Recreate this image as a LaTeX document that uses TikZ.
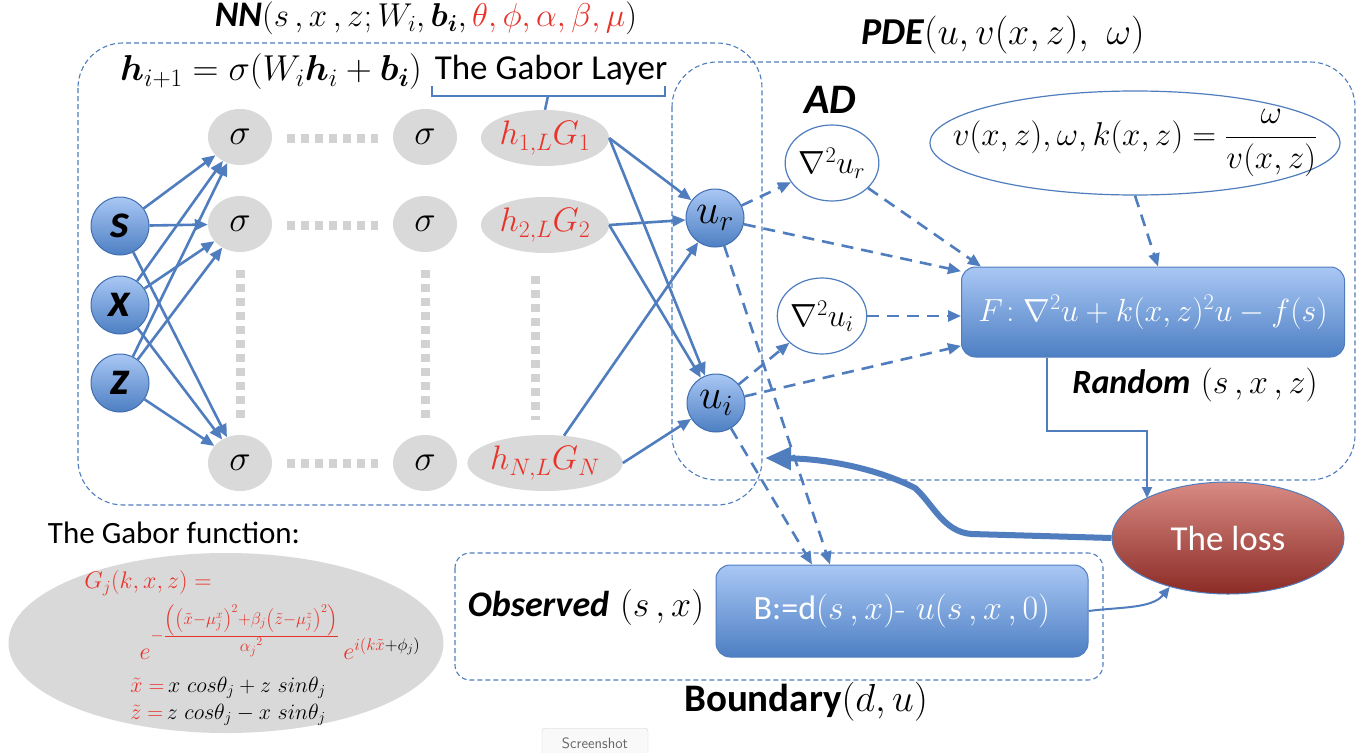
\documentclass[tikz,border=0pt]{standalone}
\usepackage{fix-cm}
\usepackage{amsmath}
\usepackage{bm}
\usepackage{fontspec}
\newfontfamily\carl{Carlito}
\usetikzlibrary{shapes.geometric,arrows.meta,calc}
\definecolor{lblue}{HTML}{4F7DBE}
\definecolor{ngray}{HTML}{D9D9D9}
\definecolor{dgray}{HTML}{D2D2D2}
\definecolor{tred}{HTML}{E8332A}
\definecolor{btop}{HTML}{A9C7F4}
\definecolor{bbot}{HTML}{4D7FC3}
\definecolor{bborder}{HTML}{3F6DB0}
\definecolor{ltop}{HTML}{D88A83}
\definecolor{lbot}{HTML}{8C2B26}
\newcommand\fsz[1]{\fontsize{#1}{#1}\selectfont}
\begin{document}
\begin{tikzpicture}[x=1pt,y=-1pt,
  dbox/.style={draw=lblue,line width=1.1pt,dash pattern=on 5pt off 3pt},
  gnode/.style={ellipse,fill=ngray,inner sep=0pt,minimum width=64pt,minimum height=56pt,font=\fsz{36}},
  hnode/.style={gnode,minimum width=128pt,text=tred,font=\fsz{34}},
  bnode/.style={circle,top color=btop,bottom color=bbot,draw=bborder,line width=1pt,minimum size=58pt,inner sep=0pt},
  innode/.style={bnode,font=\carl\bfseries\itshape\fsz{48}},
  lnode/.style={ellipse,draw=lblue,line width=1.2pt,fill=white,inner sep=0pt,minimum width=82pt,minimum height=76pt,font=\fsz{32}},
  arr/.style={draw=lblue,line width=2.6pt,-{Triangle[length=13pt,width=11pt]}},
  darr/.style={arr,dash pattern=on 12pt off 8pt},
  tarr/.style={draw=lblue,line width=2pt,-{Triangle[length=11pt,width=10pt]}},
  dotline/.style={draw=dgray,line width=9pt,dash pattern=on 8pt off 6pt},
  bluebox/.style={rectangle,rounded corners=14pt,top color=btop,bottom color=bbot,draw=lblue,line width=1pt,text=white,inner sep=0pt},
  gtxt/.style={inner sep=0pt}
]
\useasboundingbox (0,0) rectangle (1372,752);
\fill[white] (0,0) rectangle (1372,752);

% dashed frames
\draw[dbox,rounded corners=45pt] (78,43) rectangle (762,505);
\draw[dbox,rounded corners=45pt] (672,62) rectangle (1355,480);
\draw[dbox,rounded corners=15pt] (455,553) rectangle (1103,680);

% titles
\node[font=\fsz{33}] (nntitle) at (426,18) {{\carl\bfseries\itshape\fsz{36}NN}$(s\,,x\,,z;W_i,\bm{b}_{\bm{i}},\textcolor{tred}{\theta,\phi,\alpha,\beta,\mu})$};
\node[font=\fsz{38}] (pdetitle) at (1003,35) {{\carl\bfseries\itshape PDE}$(u,v(x,z),\ \omega)$};
\node[font=\fsz{36}] (heq) at (271,72) {$\bm{h}_{i+1}=\sigma(W_i\bm{h}_i+\bm{b}_{\bm{i}})$};
\node[font=\carl\fsz{35}] (gablayer) at (551,70) {The Gabor Layer};
\node[font=\carl\bfseries\itshape\fsz{42}] (ad) at (830,100) {AD};

% dotted placeholders
\draw[dotline] (287,138) -- (378,138);
\draw[dotline] (287,225) -- (378,225);
\draw[dotline] (287,463) -- (378,463);
\draw[dotline] (240,270) -- (240,420);
\draw[dotline] (425,270) -- (425,420);
\draw[dotline] (535,276) -- (535,420);

% network nodes
\node[innode] (s) at (120,226) {s};
\node[innode] (x) at (120,305) {x};
\node[innode] (z) at (120,383) {z};
\node[gnode] (s11) at (240,137) {$\sigma$};
\node[gnode] (s12) at (240,224) {$\sigma$};
\node[gnode] (s13) at (240,463) {$\sigma$};
\node[gnode] (s21) at (425,137) {$\sigma$};
\node[gnode] (s22) at (425,224) {$\sigma$};
\node[gnode] (s23) at (425,463) {$\sigma$};
\node[hnode] (h1) at (545,138) {$h_{1,L}G_1$};
\node[hnode] (h2) at (545,225) {$h_{2,L}G_2$};
\node[hnode] (hN) at (545,463) {$h_{N,L}G_N$};
\node[bnode,font=\fsz{42}] (ur) at (715,218) {$u_r$};
\node[bnode,font=\fsz{42}] (ui) at (716,403) {$u_i$};

% Gabor layer bracket
\draw[lblue,line width=2.5pt] (432,86) -- (432,96) -- (665,96) -- (665,86);
\draw[lblue,line width=2.5pt] (548,96) -- (h1.north);

% input -> sigma
\foreach \a in {s,x,z}{
  \foreach \b in {s11,s12,s13}{
    \draw[arr] (\a) -- (\b);
  }
}
% h -> u
\draw[arr] (h1.east) -- (ur);
\draw[arr] (h1.east) -- (ui);
\draw[arr] (h2.east) -- (ur);
\draw[arr] (h2.east) -- (ui);
\draw[arr] (hN) -- (ur);
\draw[arr] (hN.east) -- (ui);

% AD nodes
\node[lnode] (lur) at (832,163) {$\nabla^2u_r$};
\node[lnode] (lui) at (822,316) {$\nabla^2u_i$};

% v ellipse
\node[ellipse,draw=lblue,line width=1.2pt,minimum width=410pt,minimum height=104pt,inner sep=0pt] (v) at (1135,143) {};
\node[font=\fsz{33},inner sep=0pt] (vt) at (v.center) {$v(x,z),\omega,k(x,z)=\dfrac{\omega}{v(x,z)}$};

% F box
\node[bluebox,minimum width=383pt,minimum height=90pt,font=\fsz{32}] (F) at (1153,312) {$F\!:\nabla^2u+k(x,z)^2u-f(s)$};
\node[font=\fsz{34}] (random) at (1195,385) {{\carl\bfseries\itshape Random} $(s\,,x\,,z)$};

% loss
\node[ellipse,top color=ltop,bottom color=lbot,draw=lblue,line width=1pt,minimum width=232pt,minimum height=112pt,text=white,font=\carl\fsz{35}] (loss) at (1228,538) {The loss};

% boundary
\node[bluebox,minimum width=372pt,minimum height=92pt,font=\fsz{34}] (B) at (902,611) {{\carl B:=d}$(s\,,x)$- $u(s\,,x\,,0)$};
\node[font=\fsz{36}] (obs) at (586,607) {{\carl\bfseries\itshape Observed} $(s\,,x)$};
\node[font=\fsz{39}] (bound) at (806,702) {{\carl\bfseries Boundary}$(d,u)$};

% dashed AD connectors
\draw[darr] (ur) -- (lur);
\draw[darr] (ur) -- (F.168);
\draw[darr] (lur) -- ([xshift=20pt]F.north west);
\draw[darr] (ui) -- (lui);
\draw[darr] (lui.east) -- (lui.east -| F.west);
\draw[darr] (ui) -- (F.190);
\draw[darr] (v.south) -- ([xshift=5pt]F.north);
\draw[darr] (ur) -- ([xshift=-72pt]B.north);
\draw[darr] (ui) -- ([xshift=-90pt]B.north);

% loss connections
\draw[tarr] ([xshift=-106pt]F.south) -- ++(0,73) -| ($(loss.center)+(-81,-40)$);
\draw[tarr] (B.east) .. controls +(30,-4) and +(-18,22) .. (loss.220);
\coordinate (nnin) at (765,458);
\draw[draw=lblue,line width=6pt,-{Triangle[length=26pt,width=22pt]}] (loss.west) -- ++(-140,-4) .. controls +(-28,-2) and +(18,16) .. (915,488) .. controls (880,470) and (830,459) .. (nnin);

% Gabor function
\node[font=\carl\fsz{31}] (gabt) at (174,533) {The Gabor function:};
\node[ellipse,fill=ngray,minimum width=435pt,minimum height=180pt,inner sep=0pt] (gabell) at (226,643) {};
\node[gtxt,font=\fsz{24},text=tred] (g1) at (148,583) {$G_j(k,x,z)=$};
\node[gtxt,font=\fsz{24},text=tred,anchor=base] (g2) at (280,659) {$e^{-\frac{\scriptstyle\left(\left(\tilde x-\mu_j^x\right)^2+\beta_j\left(\tilde z-\mu_j^z\right)^2\right)}{\scriptstyle{\alpha_j}^2}}\,e^{i(k\tilde x\textcolor{black}{+\phi_j)}}$};
\node[gtxt,font=\fsz{22},anchor=base] (g3) at (228,692) {$\textcolor{tred}{\tilde x=}\,x\ cos\theta_j+z\ sin\theta_j$};
\node[gtxt,font=\fsz{22},anchor=base] (g4) at (228,719) {$\textcolor{tred}{\tilde z=}\,z\ cos\theta_j-x\ sin\theta_j$};

% screenshot button
\node[draw=gray!35,fill=gray!5,rounded corners=3pt,minimum width=106pt,minimum height=30pt,font=\sffamily\fsz{15},text=gray!80!black,anchor=north] (shot) at (595,728) {Screenshot};
\end{tikzpicture}
\end{document}
